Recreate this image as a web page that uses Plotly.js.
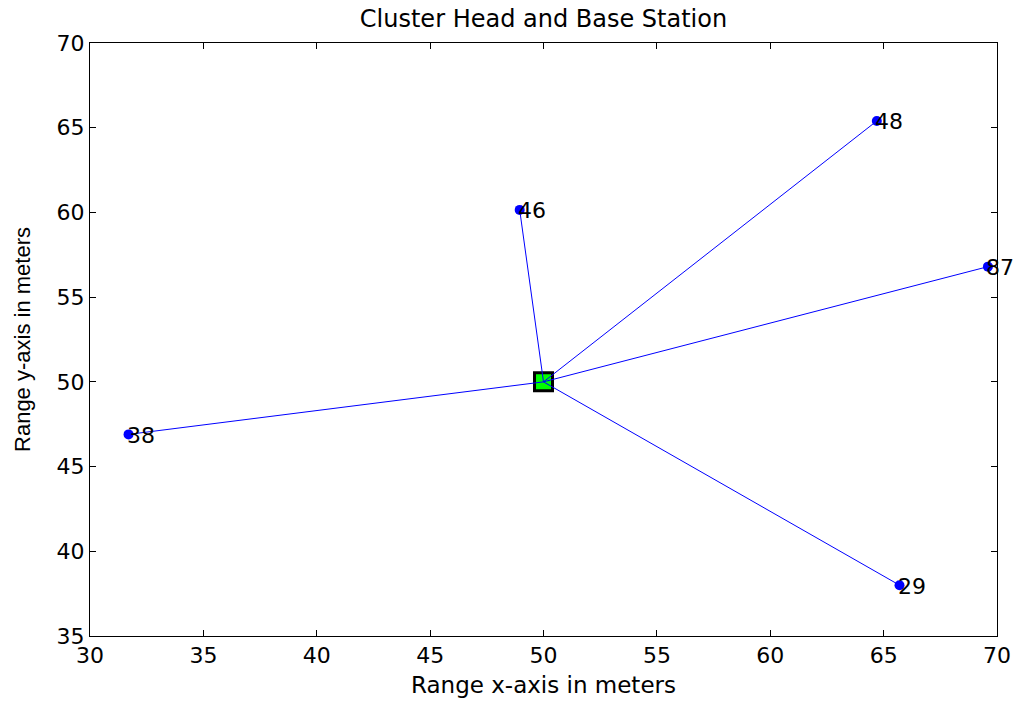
<!DOCTYPE html>
<html>
<head>
<meta charset="utf-8">
<script src="https://cdn.plot.ly/plotly-3.0.1.min.js"></script>
<style>html,body{margin:0;padding:0;background:#fff;}#chart{width:1021px;height:702px;}</style>
</head>
<body>
<div id="chart"></div>
<script>
// Data
const nodeIds = ["38", "46", "48", "87", "29"];
const nodeX = [31.7, 48.95, 64.7, 69.6, 65.7];
const nodeY = [46.9, 60.15, 65.4, 56.8, 38.0];
const headX = [50];
const headY = [50];
const xTicks = [30, 35, 40, 45, 50, 55, 60, 65, 70];
const yTicks = [35, 40, 45, 50, 55, 60, 65, 70];

const WIDE = 'DejaVu Sans, Liberation Sans, Arial, sans-serif';
const NARROW = 'Liberation Sans, Arial, sans-serif';

const traces = [];
// cluster head square
traces.push({
  x: headX, y: headY, type: 'scatter', mode: 'markers',
  marker: {symbol: 'square', size: 18, color: '#00ff00', line: {color: '#000', width: 3}},
  hoverinfo: 'skip', showlegend: false
});
// links from each node to the head
for (let i = 0; i < nodeIds.length; i++) {
  traces.push({
    x: [nodeX[i], headX[0]], y: [nodeY[i], headY[0]], type: 'scatter', mode: 'lines',
    line: {color: '#0000ff', width: 1}, showlegend: false, hoverinfo: 'skip'
  });
}
// node markers
traces.push({
  x: nodeX, y: nodeY, type: 'scatter', mode: 'markers',
  marker: {color: '#0000ff', size: 10}, showlegend: false
});

const annotations = nodeIds.map((t, i) => ({
  x: nodeX[i], y: nodeY[i], xref: 'x', yref: 'y', text: t, showarrow: false,
  xanchor: 'left', yanchor: 'middle', xshift: -4, yshift: -1,
  font: {family: WIDE, size: 22, color: '#000'}
}));

const axisCommon = {
  showgrid: false, zeroline: false, showline: true, linecolor: '#000', linewidth: 1,
  mirror: 'ticks', ticks: 'inside', ticklen: 6, tickcolor: '#000',
  tickfont: {family: WIDE, size: 22, color: '#000'}
};

const layout = {
  width: 1021, height: 702,
  margin: {l: 90, r: 24, t: 43, b: 66},
  paper_bgcolor: '#fff', plot_bgcolor: '#fff',
  title: {text: 'Cluster Head and Base Station', x: 0.5, xref: 'paper', y: 0.974, yanchor: 'middle',
          font: {family: WIDE, size: 24, color: '#000'}},
  xaxis: Object.assign({}, axisCommon, {
    range: [30, 70], tickvals: xTicks, ticktext: xTicks.map(String),
    title: {text: 'Range x-axis in meters', standoff: 9,
            font: {family: WIDE, size: 23, color: '#000'}}
  }),
  yaxis: Object.assign({}, axisCommon, {
    range: [35, 70], tickvals: yTicks, ticktext: yTicks.map(String),
    title: {text: 'Range y-axis in meters', standoff: 19,
            font: {family: NARROW, size: 22, color: '#000'}}
  }),
  annotations: annotations
};

Plotly.newPlot('chart', traces, layout, {displayModeBar: false, staticPlot: true});
</script>
</body>
</html>
